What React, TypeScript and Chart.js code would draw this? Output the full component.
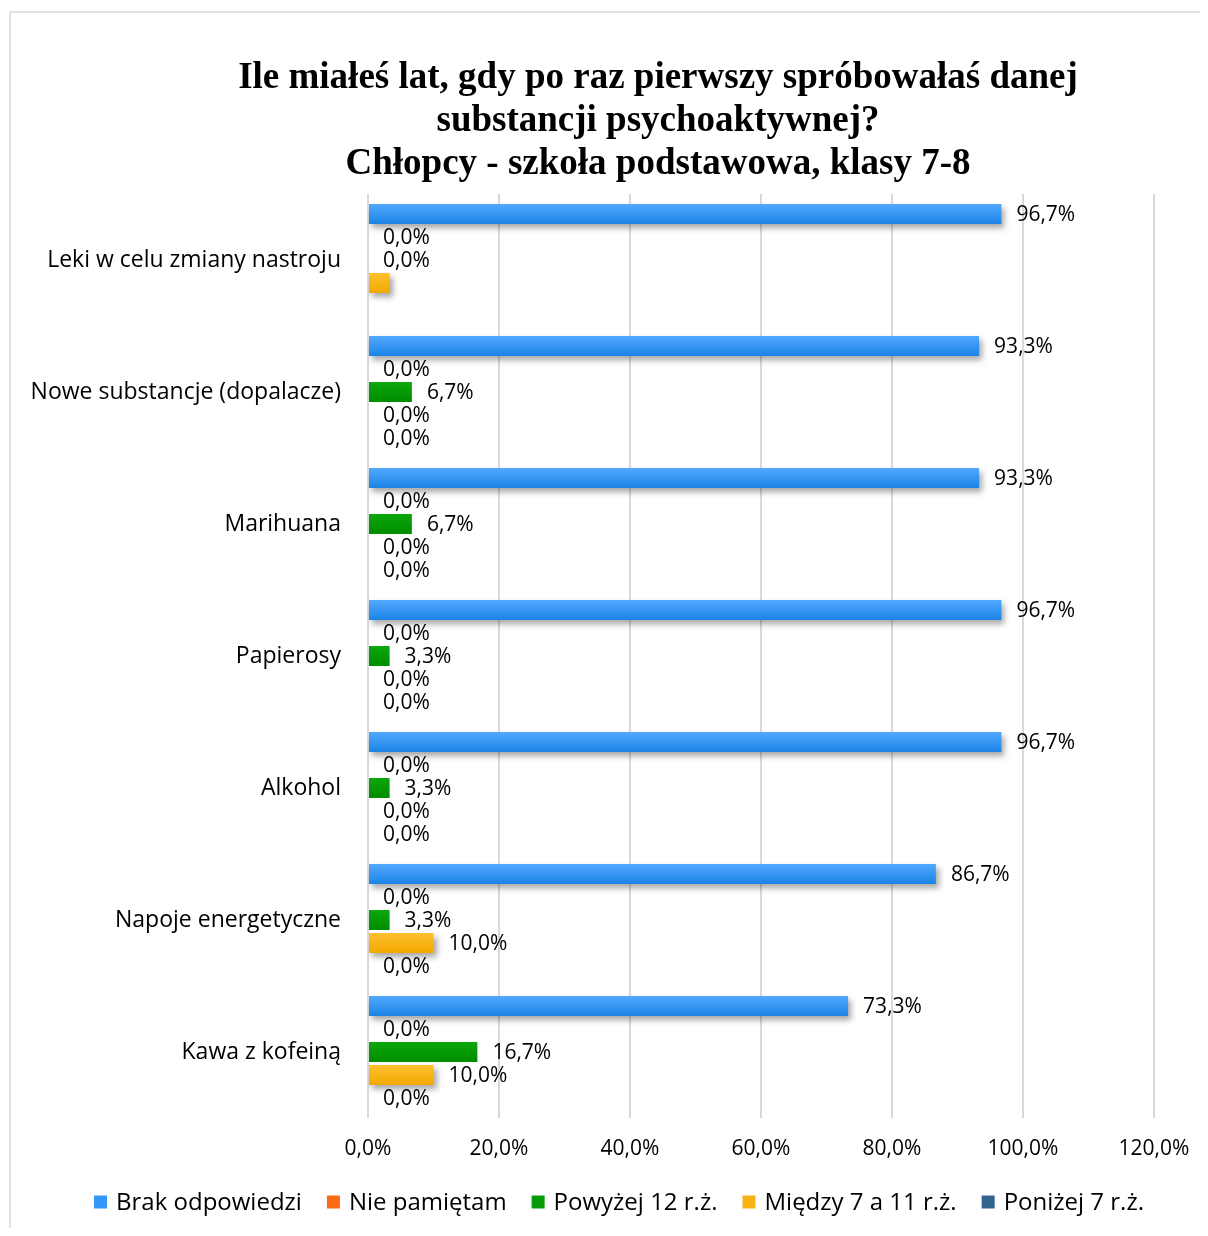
import { useEffect, useRef } from "react";
import { Chart, registerables } from "chart.js";

Chart.register(...registerables);

const categories = [
  "Leki w celu zmiany nastroju",
  "Nowe substancje (dopalacze)",
  "Marihuana",
  "Papierosy",
  "Alkohol",
  "Napoje energetyczne",
  "Kawa z kofeiną",
];
const seriesNames = [
  "Brak odpowiedzi",
  "Nie pamiętam",
  "Powyżej 12 r.ż.",
  "Między 7 a 11 r.ż.",
  "Poniżej 7 r.ż.",
];
const brakOdpowiedzi = [96.7, 93.3, 93.3, 96.7, 96.7, 86.7, 73.3];
const niePamietam = [0, 0, 0, 0, 0, 0, 0];
const powyzej12 = [0, 6.7, 6.7, 3.3, 3.3, 3.3, 16.7];
const miedzy7a11 = [3.3, 0, 0, 0, 0, 10.0, 10.0];
const ponizej7 = [0, 0, 0, 0, 0, 0, 0];
// [categoryIndex, seriesIndex] whose value labels are not shown in the reference
const hiddenLabels = [
  [0, 3],
  [0, 4],
];
const titleLines = [
  "Ile miałeś lat, gdy po raz pierwszy spróbowałaś danej",
  "substancji psychoaktywnej?",
  "Chłopcy - szkoła podstawowa, klasy 7-8",
];
const xMax = 120;
const xStep = 20;

const seriesValues = [brakOdpowiedzi, niePamietam, powyzej12, miedzy7a11, ponizej7];
const topColors = ["#52a8ff", "#ff7a2e", "#0ca80c", "#ffc02e", "#3a6a98"];
const bottomColors = ["#1a84e6", "#ee5a00", "#008c00", "#f2a900", "#2a5785"];
const legendColors = ["#3398f8", "#fb6a14", "#079b07", "#f8b414", "#33628f"];
const shadowed = [true, true, false, true, true];

const FONT = '"Open Sans", sans-serif';
const FS = 21;
const CAT_FS = 23;
const LEG_FS = 24;

const fmt = (v: number) => v.toFixed(1).replace(".", ",") + "%";

export default function App() {
  const ref = useRef<HTMLCanvasElement | null>(null);

  useEffect(() => {
    if (!ref.current) return;

    const decorPlugin = {
      id: "decor",
      beforeDraw(chart: any) {
        const ctx = chart.ctx;
        ctx.save();
        ctx.fillStyle = "#ffffff";
        ctx.fillRect(0, 0, chart.width, chart.height);
        ctx.strokeStyle = "#d9d9d9";
        ctx.lineWidth = 1.5;
        ctx.beginPath();
        ctx.moveTo(2, chart.height + 2);
        ctx.lineTo(2, 4);
        ctx.lineTo(chart.width + 2, 4);
        ctx.stroke();
        // title
        ctx.fillStyle = "#000000";
        ctx.font = 'bold 37px "Liberation Serif", "Times New Roman", serif';
        ctx.textAlign = "center";
        ctx.textBaseline = "middle";
        titleLines.forEach((line, i) => {
          ctx.fillText(line, 650, 70 + i * 43);
        });
        ctx.restore();
      },
      beforeDatasetsDraw(chart: any) {
        const ctx = chart.ctx;
        chart.data.datasets.forEach((_ds: any, di: number) => {
          const meta = chart.getDatasetMeta(di);
          meta.data.forEach((el: any) => {
            const h = el.height || 20;
            const g = ctx.createLinearGradient(0, el.y - h / 2, 0, el.y + h / 2);
            g.addColorStop(0, topColors[di]);
            g.addColorStop(1, bottomColors[di]);
            el.options = { ...el.options, backgroundColor: g };
          });
        });
      },
      beforeDatasetDraw(chart: any, args: any) {
        const ctx = chart.ctx;
        ctx.save();
        if (shadowed[args.index]) {
          ctx.shadowColor = "rgba(0,0,0,0.35)";
          ctx.shadowBlur = 6;
          ctx.shadowOffsetX = 3;
          ctx.shadowOffsetY = 4;
        }
      },
      afterDatasetDraw(chart: any) {
        chart.ctx.restore();
      },
      afterDatasetsDraw(chart: any) {
        const ctx = chart.ctx;
        ctx.save();
        ctx.font = `${FS}px ${FONT}`;
        ctx.fillStyle = "#000000";
        ctx.textAlign = "left";
        ctx.textBaseline = "middle";
        chart.data.datasets.forEach((ds: any, di: number) => {
          const meta = chart.getDatasetMeta(di);
          meta.data.forEach((el: any, ci: number) => {
            if (hiddenLabels.some(([c, s]) => c === ci && s === di)) return;
            ctx.fillText(fmt(ds.data[ci]), el.x + 15, el.y + 1);
          });
        });
        ctx.restore();
      },
      afterDraw(chart: any) {
        const ctx = chart.ctx;
        ctx.save();
        ctx.font = `${LEG_FS}px ${FONT}`;
        ctx.textBaseline = "middle";
        ctx.textAlign = "left";
        const box = 13;
        const gap = 9;
        const between = 25;
        const widths = seriesNames.map((n) => ctx.measureText(n).width);
        const total =
          widths.reduce((a, w) => a + box + gap + w, 0) + between * (seriesNames.length - 1);
        let x = 611 - total / 2;
        const y = 1194;
        seriesNames.forEach((n, i) => {
          ctx.fillStyle = legendColors[i];
          ctx.fillRect(x, y - box / 2, box, box);
          ctx.fillStyle = "#000000";
          ctx.fillText(n, x + box + gap, y + 1);
          x += box + gap + widths[i] + between;
        });
        ctx.restore();
      },
    };

    const chart = new Chart(ref.current, {
      type: "bar",
      data: {
        labels: categories,
        datasets: seriesNames.map((name, i) => ({
          label: name,
          data: seriesValues[i],
          backgroundColor: legendColors[i],
          borderWidth: 0,
          categoryPercentage: 0.871,
          barPercentage: 0.87,
        })),
      },
      options: {
        indexAxis: "y",
        animation: false,
        responsive: true,
        maintainAspectRatio: false,
        layout: { padding: { top: 186, right: 46, bottom: 58, left: 0 } },
        plugins: {
          legend: { display: false },
          title: { display: false },
          tooltip: { enabled: false },
        },
        scales: {
          x: {
            min: 0,
            max: xMax,
            border: { display: false },
            grid: { color: "#d9d9d9", lineWidth: 2, drawTicks: false },
            ticks: {
              stepSize: xStep,
              padding: 18,
              color: "#000000",
              font: { family: FONT, size: FS },
              callback: (v: any) => fmt(Number(v)),
            },
            afterFit: (s: any) => {
              s.height = 52;
              s.paddingLeft = 0;
              s.paddingRight = 0;
            },
          },
          y: {
            border: { display: false },
            grid: { display: false, drawTicks: false },
            ticks: {
              padding: 27,
              color: "#000000",
              font: { family: FONT, size: CAT_FS },
            },
            afterFit: (s: any) => {
              s.width = 360;
            },
          },
        },
      },
      plugins: [decorPlugin],
    });

    return () => chart.destroy();
  }, []);

  return (
    <div style={{ position: "relative", width: 1192, height: 1220 }}>
      <canvas ref={ref} />
    </div>
  );
}
